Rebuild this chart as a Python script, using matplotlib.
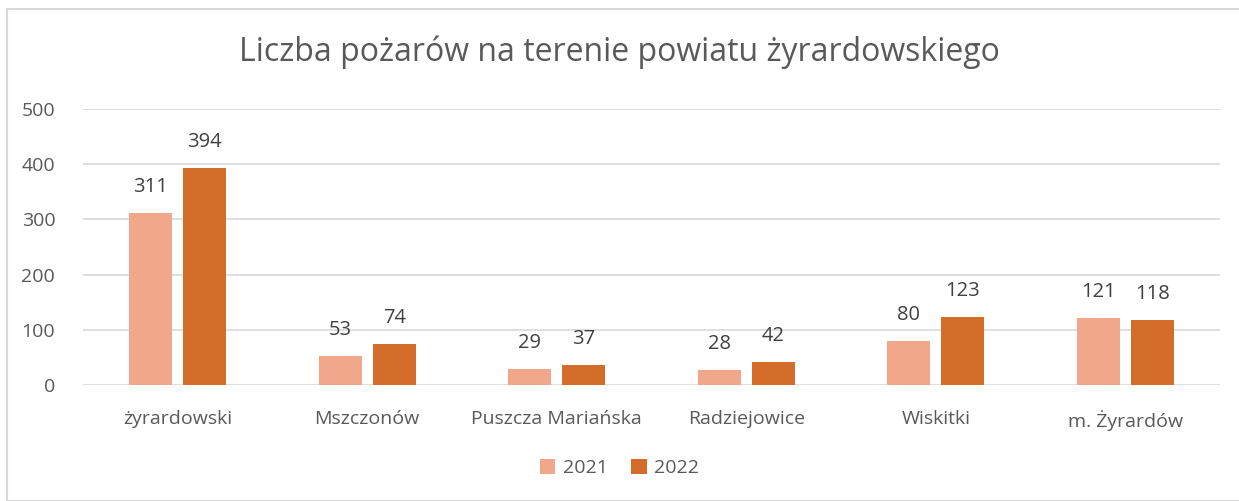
import matplotlib
matplotlib.use("Agg")
import matplotlib.pyplot as plt
import numpy as np
from matplotlib.patches import Rectangle

categories = ["żyrardowski", "Mszczonów", "Puszcza Mariańska", "Radziejowice", "Wiskitki", "m. Żyrardów"]
values_2021 = [311, 53, 29, 28, 80, 121]
values_2022 = [394, 74, 37, 42, 123, 118]
series_labels = ["2021", "2022"]
yticks = [0, 100, 200, 300, 400, 500]

plt.rcParams['font.family'] = ['Open Sans', 'DejaVu Sans']
txt = "#595959"
c1 = "#F1A88A"
c2 = "#D46D2A"

fig = plt.figure(figsize=(12.39, 5.01), dpi=100)
fig.patches.append(Rectangle((7/1239, 0), 1.0, 1 - 9/501, transform=fig.transFigure,
                             fill=False, edgecolor="#D9D9D9", linewidth=1.5))
ax = fig.add_axes([83/1239, 1 - 385/501, (1220 - 83)/1239, (385 - 109)/501])

x = np.arange(len(categories))
w = 0.227
gap = 0.058
b1 = ax.bar(x - (w + gap)/2, values_2021, w, color=c1, label=series_labels[0], zorder=3)
b2 = ax.bar(x + (w + gap)/2, values_2022, w, color=c2, label=series_labels[1], zorder=3)
for bars in (b1, b2):
    for r in bars:
        ax.text(r.get_x() + r.get_width()/2, r.get_height() + 47, f"{int(r.get_height())}",
                ha="center", va="center", fontsize=14.5, color="#404040")

ax.set_xlim(-0.5, len(categories) - 0.5)
ax.set_ylim(0, 500)
ax.set_yticks(yticks)
ax.set_yticklabels([str(v) for v in yticks], fontsize=14, color=txt)
ax.set_xticks(x)
ax.set_xticklabels(categories, fontsize=14, color=txt)
ax.tick_params(axis="both", length=0)
ax.tick_params(axis="y", pad=20)
ax.tick_params(axis="x", pad=18)
ax.grid(axis="y", color="#D9D9D9", linewidth=1.2, zorder=0)
for s in ax.spines.values():
    s.set_visible(False)

fig.text(0.5, 1 - 52/501, "Liczba pożarów na terenie powiatu żyrardowskiego",
         ha="center", va="center", fontsize=23, color=txt)
leg = fig.legend(handles=[b1, b2], loc="center", bbox_to_anchor=(0.5, 1 - 468/501), ncol=2,
                 frameon=False, fontsize=14, handlelength=0.8, handleheight=0.8,
                 columnspacing=1.2, handletextpad=0.4)
for t in leg.get_texts():
    t.set_color(txt)

fig.savefig("out.png", dpi=100)
